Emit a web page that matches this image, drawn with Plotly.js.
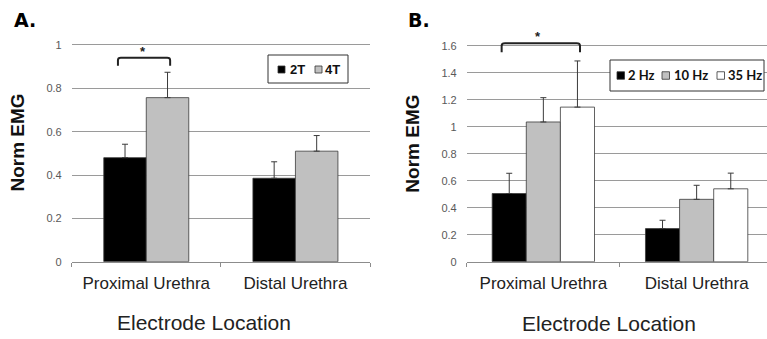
<!DOCTYPE html>
<html><head><meta charset="utf-8">
<script src="https://cdn.plot.ly/plotly-3.0.1.min.js"></script>
<style>html,body{margin:0;padding:0;background:#fff}#chart{width:767px;height:339px}</style>
</head><body><div id="chart"></div>
<script>
// ---- data ----
const categories = ['Proximal Urethra', 'Distal Urethra'];

// Panel A (stimulus threshold)
const seriesA = ['2T', '4T'];
const a2T = [0.48, 0.385];
const a2TErr = [0.062, 0.076];
const a4T = [0.757, 0.51];
const a4TErr = [0.117, 0.072];

// Panel B (stimulus frequency)
const seriesB = ['2 Hz', '10 Hz', '35 Hz'];
const b2Hz = [0.505, 0.245];
const b2HzErr = [0.15, 0.062];
const b10Hz = [1.035, 0.462];
const b10HzErr = [0.18, 0.104];
const b35Hz = [1.145, 0.54];
const b35HzErr = [0.342, 0.116];

const yTicksA = [0, 0.2, 0.4, 0.6, 0.8, 1];
const yTickTextA = ['0', '0.2', '0.4', '0.6', '0.8', '1'];
const yTicksB = [0, 0.2, 0.4, 0.6, 0.8, 1, 1.2, 1.4, 1.6];
const yTickTextB = ['0', '0.2', '0.4', '0.6', '0.8', '1', '1.2', '1.4', '1.6'];

const yTitle = 'Norm EMG';
const xTitle = 'Electrode Location';
const panelLabels = ['A.', 'B.'];
const sigMark = '*';

// ---- styling ----
const W = 767, H = 339;
const font = 'Liberation Sans, Arial, sans-serif';
const colorsA = ['#000000', '#c0c0c0'];
const colorsB = ['#000000', '#c0c0c0', '#ffffff'];
const outline = {color: '#3a3a3a', width: 0.8};
function err(arr) {
  return {type: 'data', symmetric: false, array: arr, arrayminus: arr.map(() => 0),
          color: '#3a3a3a', thickness: 1, width: 3};
}
function bar(name, y, e, color, xa, ya, w, off) {
  return {type: 'bar', name: name, x: categories, y: y, error_y: err(e),
          marker: {color: color, line: outline}, xaxis: xa, yaxis: ya,
          width: w, offset: off, hoverinfo: 'y', showlegend: false};
}
const wA = 0.285, wB = 0.2225;
const traces = [
  bar(seriesA[0], a2T, a2TErr, colorsA[0], 'x', 'y', wA, -wA),
  bar(seriesA[1], a4T, a4TErr, colorsA[1], 'x', 'y', wA, 0),
  bar(seriesB[0], b2Hz, b2HzErr, colorsB[0], 'x2', 'y2', wB, -1.5 * wB),
  bar(seriesB[1], b10Hz, b10HzErr, colorsB[1], 'x2', 'y2', wB, -0.5 * wB),
  bar(seriesB[2], b35Hz, b35HzErr, colorsB[2], 'x2', 'y2', wB, 0.5 * wB)
];

function px2x(px) { return px / W; }
function px2y(py) { return (H - py) / H; }

// ---- boxed legends (compact, as in the original figure) ----
const shapes = [];
const annotations = [];
function legendBox(names, colors, box, squareX, textX, yc, sq, fnt) {
  shapes.push({type: 'rect', xref: 'paper', yref: 'paper',
    x0: px2x(box[0]), x1: px2x(box[1]), y0: px2y(box[3]), y1: px2y(box[2]),
    line: {color: '#333', width: 1}, fillcolor: '#ffffff', layer: 'above'});
  names.forEach((n, i) => {
    shapes.push({type: 'rect', xref: 'paper', yref: 'paper',
      x0: px2x(squareX[i]), x1: px2x(squareX[i] + sq), y0: px2y(yc + sq / 2), y1: px2y(yc - sq / 2),
      line: {color: '#333', width: 0.8}, fillcolor: colors[i], layer: 'above'});
    annotations.push({text: n, xref: 'paper', yref: 'paper', x: px2x(textX[i]), y: px2y(yc),
      xanchor: 'left', yanchor: 'middle', showarrow: false, borderpad: 0, font: fnt});
  });
}
legendBox(seriesA, colorsA, [268, 348, 55, 83], [278, 315], [288.5, 324], 69.5, 7,
  {family: font, size: 13, color: '#111', weight: 'bold'});
legendBox(seriesB, colorsB, [610, 764, 60, 91], [617, 662, 717], [627, 672.5, 726.5], 75.5, 7.5,
  {family: 'Lato, sans-serif', size: 13, color: '#111', weight: 'bold'});

// significance brackets
shapes.push({type: 'path', xref: 'x', yref: 'y',
  path: 'M -0.19,0.904 L -0.19,0.93 Q -0.19,0.941 -0.17,0.941 L 0.14,0.941 Q 0.16,0.941 0.16,0.93 L 0.16,0.904',
  line: {color: '#222', width: 2}});
shapes.push({type: 'path', xref: 'x2', yref: 'y2',
  path: 'M -0.272,1.551 L -0.272,1.6 Q -0.272,1.618 -0.25,1.618 L 0.217,1.618 Q 0.239,1.618 0.239,1.6 L 0.239,1.551',
  line: {color: '#222', width: 2}});
annotations.push({text: sigMark, xref: 'x', yref: 'y', x: -0.02, y: 0.972, showarrow: false,
  font: {family: font, size: 13, color: '#222', weight: 'bold'}});
annotations.push({text: sigMark, xref: 'x2', yref: 'y2', x: -0.033, y: 1.668, showarrow: false,
  font: {family: font, size: 13, color: '#222', weight: 'bold'}});

// panel labels
annotations.push({text: panelLabels[0], xref: 'paper', yref: 'paper', x: px2x(12), y: px2y(7),
  xanchor: 'left', yanchor: 'top', showarrow: false,
  font: {family: 'DejaVu Sans, sans-serif', size: 19, color: '#000', weight: 'bold'}});
annotations.push({text: panelLabels[1], xref: 'paper', yref: 'paper', x: px2x(406), y: px2y(7),
  xanchor: 'left', yanchor: 'top', showarrow: false,
  font: {family: 'DejaVu Sans, sans-serif', size: 19, color: '#000', weight: 'bold'}});

// x-axis titles (placed as in the original, slightly left of the plot centre)
annotations.push({text: xTitle, xref: 'paper', yref: 'paper', x: px2x(204), y: px2y(322),
  xanchor: 'center', yanchor: 'middle', showarrow: false,
  font: {family: font, size: 21, color: '#222'}});
annotations.push({text: xTitle, xref: 'paper', yref: 'paper', x: px2x(609), y: px2y(323),
  xanchor: 'center', yanchor: 'middle', showarrow: false,
  font: {family: font, size: 21, color: '#222'}});

const xBase = {
  type: 'category', showgrid: false, showline: true, linecolor: '#8c8c8c', linewidth: 1,
  ticks: 'outside', tickson: 'boundaries', ticklen: 4, tickcolor: '#8c8c8c',
  tickfont: {family: font, size: 17, color: '#222'}, ticklabelstandoff: 6,
  zeroline: false, fixedrange: true, automargin: false
};
const yBase = {
  showgrid: true, gridcolor: '#9a9a9a', gridwidth: 1, zeroline: false, showline: false,
  ticks: '', tickfont: {family: font, size: 11, color: '#595959'}, ticklabelstandoff: 9,
  fixedrange: true, automargin: false
};

const layout = {
  width: W, height: H, margin: {l: 0, r: 0, t: 0, b: 0, autoexpand: false},
  paper_bgcolor: '#ffffff', plot_bgcolor: '#ffffff',
  barmode: 'overlay', showlegend: false,
  font: {family: font, color: '#222'},
  xaxis: Object.assign({}, xBase, {domain: [px2x(71.7), px2x(370)], range: [-0.5, 1.5], anchor: 'y'}),
  yaxis: Object.assign({}, yBase, {domain: [px2y(261.7), px2y(23.3)], range: [0, 1.1], anchor: 'x',
    tickvals: yTicksA, ticktext: yTickTextA,
    title: {text: yTitle, font: {family: font, size: 19, color: '#111', weight: 'bold'}}}),
  xaxis2: Object.assign({}, xBase, {domain: [px2x(466.7), 1], range: [-0.5, 1.459], anchor: 'y2'}),
  yaxis2: Object.assign({}, yBase, {domain: [px2y(261.7), px2y(25.45)], range: [0, 1.75], anchor: 'x2',
    tickvals: yTicksB, ticktext: yTickTextB,
    title: {text: yTitle, font: {family: font, size: 19, color: '#111', weight: 'bold'}}}),
  shapes: shapes,
  annotations: annotations
};

Plotly.newPlot('chart', traces, layout, {displayModeBar: false, staticPlot: true});
</script>
</body></html>
